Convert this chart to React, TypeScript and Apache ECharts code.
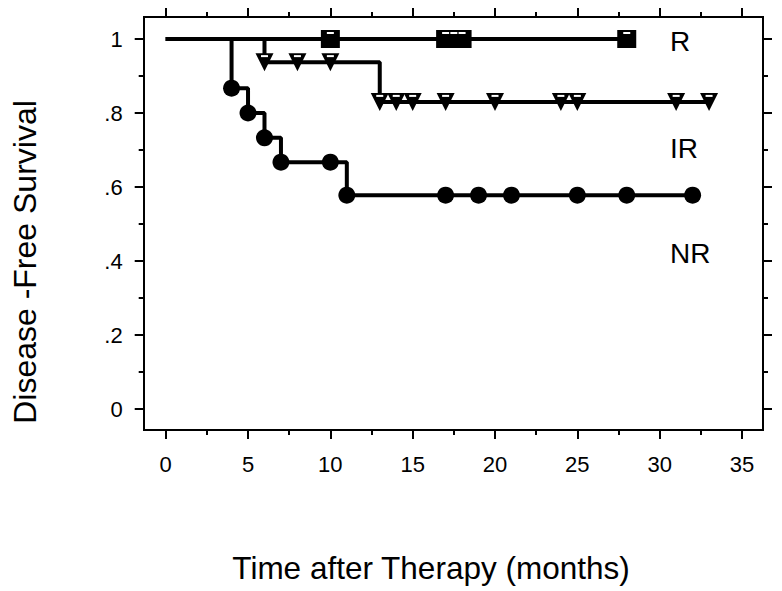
import React, { useEffect, useRef } from "react";
import * as echarts from "echarts";

// ---- Data ----
const rTimes = [0, 10, 17, 17.5, 18, 28];
const rSurv = [1, 1, 1, 1, 1, 1];

const irTimes = [0, 6, 8, 10, 13, 14, 15, 17, 20, 24, 25, 31, 33];
const irSurv = [1, 0.9375, 0.9375, 0.9375, 0.83, 0.83, 0.83, 0.83, 0.83, 0.83, 0.83, 0.83, 0.83];

const nrTimes = [0, 4, 5, 6, 7, 10, 11, 17, 19, 21, 25, 28, 32];
const nrSurv = [1, 0.867, 0.8, 0.733, 0.667, 0.667, 0.578, 0.578, 0.578, 0.578, 0.578, 0.578, 0.578];

const xTickLabels = ["0", "5", "10", "15", "20", "25", "30", "35"];
const yTickLabels = ["0", ".2", ".4", ".6", ".8", "1"];

const groupNames = ["R", "IR", "NR"];
const xTitle = "Time after Therapy (months)";
const yTitle = "Disease -Free Survival";

const FONT = "'Liberation Sans', Arial, Helvetica, sans-serif";

const pts = (t: number[], s: number[]) => t.map((x, i) => [x, s[i]]);
const marks = (t: number[], s: number[]) => t.slice(1).map((x, i) => [x, s[i + 1]]);

export default function App() {
  const ref = useRef<HTMLDivElement>(null);
  useEffect(() => {
    if (!ref.current) return;
    const chart = echarts.init(ref.current, undefined, { renderer: "svg" });
    const tickCommon = {
      show: true,
      inside: false,
      length: 9,
      lineStyle: { color: "#000", width: 2 },
    };
    const minorCommon = {
      show: true,
      splitNumber: 2,
      length: 5,
      lineStyle: { color: "#000", width: 2 },
    };
    const hiddenLine = { show: false, onZero: false };
    const lineSeries = (name: string, t: number[], s: number[]) => ({
      name,
      type: "line",
      step: "end",
      showSymbol: false,
      clip: false,
      data: pts(t, s),
      lineStyle: { color: "#000", width: 4 },
      z: 2,
    });
    const markSeries = (
      name: string,
      symbol: string,
      size: any,
      data: number[][],
      color: string,
      z: number,
      offset?: number[],
      rotate?: number
    ) => ({
      name,
      type: "scatter",
      clip: false,
      silent: z > 3,
      symbol,
      symbolSize: size,
      symbolOffset: offset ?? [0, 0],
      symbolRotate: rotate ?? 0,
      data,
      itemStyle: { color, opacity: 1 },
      emphasis: { disabled: true },
      z,
    });
    const option: any = {
      animation: false,
      backgroundColor: "#fff",
      textStyle: { fontFamily: FONT },
      grid: { left: 165.7, right: 40, top: 39, bottom: 182, containLabel: false },
      xAxis: [
        {
          type: "value",
          position: "bottom",
          offset: 21,
          min: 0,
          max: 35,
          interval: 5,
          axisLine: hiddenLine,
          axisTick: tickCommon,
          minorTick: minorCommon,
          splitLine: { show: false },
          axisLabel: {
            color: "#000",
            fontSize: 22,
            fontFamily: FONT,
            margin: 23,
            formatter: (v: number) => xTickLabels[Math.round(v / 5)] ?? "",
          },
        },
        {
          type: "value",
          position: "top",
          offset: 22,
          min: 0,
          max: 35,
          interval: 5,
          axisLine: hiddenLine,
          axisTick: tickCommon,
          minorTick: minorCommon,
          splitLine: { show: false },
          axisLabel: { show: false },
        },
      ],
      yAxis: [
        {
          type: "value",
          position: "left",
          offset: 22,
          min: 0,
          max: 1,
          interval: 0.2,
          axisLine: hiddenLine,
          axisTick: tickCommon,
          minorTick: minorCommon,
          splitLine: { show: false },
          axisLabel: {
            color: "#000",
            fontSize: 22,
            fontFamily: FONT,
            margin: 21,
            formatter: (v: number) => yTickLabels[Math.round(v / 0.2)] ?? "",
          },
        },
        {
          type: "value",
          position: "right",
          offset: 21,
          min: 0,
          max: 1,
          interval: 0.2,
          axisLine: hiddenLine,
          axisTick: tickCommon,
          minorTick: minorCommon,
          splitLine: { show: false },
          axisLabel: { show: false },
        },
      ],
      graphic: [
        {
          type: "rect",
          z: 0,
          shape: { x: 144, y: 17, width: 619, height: 413 },
          style: { fill: "none", stroke: "#000", lineWidth: 2 },
        },
        {
          type: "text",
          x: 431,
          y: 568,
          style: {
            text: xTitle,
            fontSize: 31.5,
            fontFamily: FONT,
            fill: "#000",
            align: "center",
            verticalAlign: "middle",
          },
        },
        {
          type: "text",
          x: 25,
          y: 262,
          rotation: Math.PI / 2,
          style: {
            text: yTitle,
            fontSize: 32,
            fontFamily: FONT,
            fill: "#000",
            align: "center",
            verticalAlign: "middle",
          },
        },
        {
          type: "text",
          left: 670,
          top: 27,
          style: { text: groupNames[0], fontSize: 28, fontFamily: FONT, fill: "#000" },
        },
        {
          type: "text",
          left: 670,
          top: 134,
          style: { text: groupNames[1], fontSize: 28, fontFamily: FONT, fill: "#000" },
        },
        {
          type: "text",
          left: 670,
          top: 239,
          style: { text: groupNames[2], fontSize: 28, fontFamily: FONT, fill: "#000" },
        },
      ],
      series: [
        lineSeries("R", rTimes, rSurv),
        lineSeries("IR", irTimes, irSurv),
        lineSeries("NR", nrTimes, nrSurv),
        markSeries("R censored", "rect", [19, 18], marks(rTimes, rSurv), "#000", 3),
        markSeries("IR marks", "triangle", [18, 18], marks(irTimes, irSurv), "#000", 3, [0, 0], 180),
        markSeries("NR marks", "circle", 17, marks(nrTimes, nrSurv), "#000", 3),
        markSeries("R marks highlight", "rect", [7, 2], marks(rTimes, rSurv), "#fff", 4, [0, -6]),
        markSeries("IR marks highlight", "rect", [7, 2], marks(irTimes, irSurv), "#fff", 4, [0, -6]),
      ],
    };
    chart.setOption(option);
    return () => chart.dispose();
  }, []);
  return (
    <div
      ref={ref}
      style={{ position: "absolute", left: 0, top: 0, width: 782, height: 591, background: "#fff" }}
    />
  );
}
